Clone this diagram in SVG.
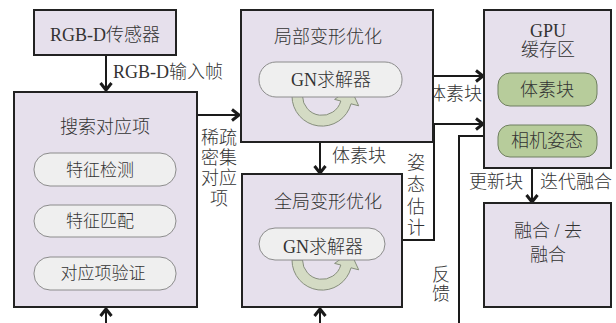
<svg xmlns="http://www.w3.org/2000/svg" width="616" height="323" viewBox="0 0 616 323">
<style>
  .box { fill: #e6e0ec; stroke: #222; stroke-width: 2; }
  .pill { fill: #efefef; stroke: #8c8c8c; stroke-width: 1; }
  .gpill { fill: #b7cc9b; stroke: #6f7f60; stroke-width: 1; }
  .loop { fill: #d4dbc4; stroke: #868e7c; stroke-width: 1; }
  .t { font-family: "Liberation Serif", "Noto Sans CJK SC", serif; font-size: 18px; font-weight: 300; fill: #333; text-anchor: middle; }
  .ts { font-size: 17px; }
  .ln { fill: none; stroke: #1a1a1a; stroke-width: 2; }
  .arr { marker-end: url(#chev); }
</style>
<defs>
  <marker id="chev" markerUnits="userSpaceOnUse" viewBox="0 0 14 14" markerWidth="14" markerHeight="14" refX="10" refY="7" orient="auto">
    <path d="M3,1.5 L10,7 L3,12.5" fill="none" stroke="#1a1a1a" stroke-width="3"/>
  </marker>
  <path id="loopShape" d="M292,0 A30,30 0 0 0 351,7.8 L358.7,9.8 L350.5,-8 L334.6,3.4 L340.8,5 A19.5,19.5 0 0 1 302.5,0 Z"/>
</defs>

<g id="connectors">
  <line class="ln arr" x1="106" y1="55" x2="106" y2="90"/>
  <line class="ln arr" x1="197" y1="115" x2="239" y2="115"/>
  <line class="ln arr" x1="106" y1="186" x2="106" y2="203"/>
  <line class="ln arr" x1="106" y1="237" x2="106" y2="255"/>
  <line class="ln arr" x1="106" y1="323" x2="106" y2="309"/>
  <line class="ln arr" x1="320" y1="142" x2="320" y2="173"/>
  <line class="ln arr" x1="320" y1="323" x2="320" y2="309"/>
  <line class="ln arr" x1="433" y1="76" x2="483" y2="76"/>
  <polyline class="ln arr" points="402,240 434,240 434,124 483,124"/>
  <polyline class="ln" points="459,323 459,136 484,136"/>
  <line class="ln arr" x1="548" y1="106" x2="548" y2="123"/>
  <line class="ln arr" x1="532" y1="168" x2="532" y2="202"/>
  <text class="t" x="113" y="78" style="text-anchor:start">RGB-D输入帧</text>
  <text class="t" x="219" y="144">稀疏</text>
  <text class="t" x="219" y="164">密集</text>
  <text class="t" x="219" y="184">对应</text>
  <text class="t" x="219" y="205">项</text>
  <text class="t" x="359" y="162">体素块</text>
  <text class="t" x="416" y="169">姿</text>
  <text class="t" x="416" y="191">态</text>
  <text class="t" x="416" y="213">估</text>
  <text class="t" x="416" y="234">计</text>
  <text class="t" x="455" y="100">体素块</text>
  <text class="t" x="441" y="281">反</text>
  <text class="t" x="441" y="300">馈</text>
  <text class="t" x="496" y="188">更新块</text>
  <text class="t" x="576" y="188">迭代融合</text>
</g>

<g id="sensor">
  <rect class="box" x="34" y="10" width="142" height="45"/>
  <text class="t" x="105" y="41">RGB-D传感器</text>
</g>

<g id="search">
  <rect class="box" x="14" y="92" width="183" height="215"/>
  <text class="t" x="105" y="133">搜索对应项</text>
  <g id="feat-detect">
    <rect class="pill" x="34" y="153" width="142" height="33" rx="16"/>
    <text class="t ts" x="100" y="176">特征检测</text>
  </g>
  <g id="feat-match">
    <rect class="pill" x="34" y="205" width="142" height="32" rx="16"/>
    <text class="t ts" x="100" y="227">特征匹配</text>
  </g>
  <g id="corr-verify">
    <rect class="pill" x="34" y="257" width="142" height="33" rx="16"/>
    <text class="t ts" x="103" y="279">对应项验证</text>
  </g>
</g>

<g id="local">
  <rect class="box" x="241" y="10" width="192" height="132"/>
  <text class="t" x="328" y="43">局部变形优化</text>
  <use href="#loopShape" class="loop" transform="translate(0,96)"/>
  <rect class="pill" x="259" y="62" width="143" height="35" rx="17"/>
  <text class="t" x="331" y="86">GN求解器</text>
</g>

<g id="global">
  <rect class="box" x="242" y="174" width="160" height="133"/>
  <text class="t" x="328" y="208">全局变形优化</text>
  <use href="#loopShape" class="loop" transform="translate(0,260)"/>
  <rect class="pill" x="259" y="228" width="126" height="32" rx="16"/>
  <text class="t" x="323" y="253">GN求解器</text>
</g>

<g id="gpu">
  <rect class="box" x="484" y="10" width="127" height="158"/>
  <text class="t" x="548" y="37">GPU</text>
  <text class="t" x="548" y="56">缓存区</text>
  <g id="voxel">
    <rect class="gpill" x="498" y="73" width="99" height="33" rx="12"/>
    <text class="t" x="547" y="96">体素块</text>
  </g>
  <g id="pose">
    <rect class="gpill" x="498" y="125" width="99" height="32" rx="12"/>
    <text class="t" x="547" y="147">相机姿态</text>
  </g>
</g>

<g id="fusion">
  <rect class="box" x="484" y="203" width="127" height="104"/>
  <text class="t" x="548" y="237">融合 / 去</text>
  <text class="t" x="548" y="261">融合</text>
</g>
</svg>
